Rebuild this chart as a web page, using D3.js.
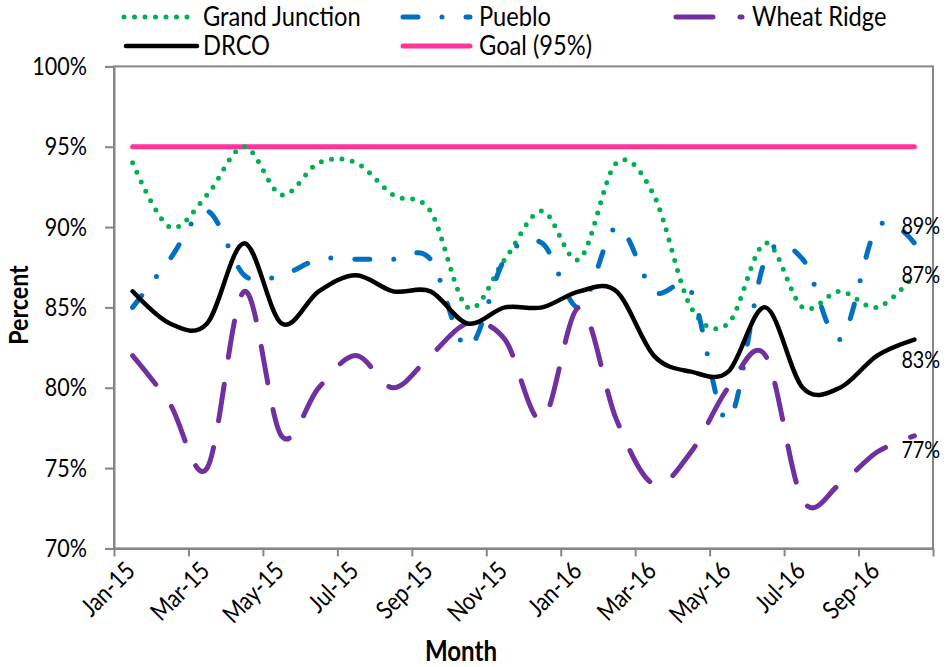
<!DOCTYPE html>
<html><head><meta charset="utf-8">
<script src="https://cdn.jsdelivr.net/npm/d3@7"></script>
<style>
body{margin:0;background:#fff}
text{font-family:Lato,"Open Sans",sans-serif;fill:#000}
</style>
</head><body><svg id="c" width="946" height="667"></svg>
<script>
// ---------- data ----------
const months = ["Jan-15","Feb-15","Mar-15","Apr-15","May-15","Jun-15","Jul-15","Aug-15","Sep-15","Oct-15","Nov-15","Dec-15",
                "Jan-16","Feb-16","Mar-16","Apr-16","May-16","Jun-16","Jul-16","Aug-16","Sep-16","Oct-16"];
const grandJunction = [94,90,92,95,92,94,94,92,91,85,88,91,88,94,92,85,84,89,85,86,85,87];
const pueblo        = [85,88,91,87,87,88,88,88,88,82.5,88,89,85,90,86,86,78,88,88,83,90,89];
const wheatRidge    = [82,79,75,86,77,80,82,80,82,84,83,78,85,78,74,76,80,82,73,74,76,77];
const drco          = [86,84,84,89,84,86,87,86,86,84,85,85,86,86,82,81,81,85,80,80,82,83];
const goal          = [95,95,95,95,95,95,95,95,95,95,95,95,95,95,95,95,95,95,95,95,95,95];
const seriesNames   = ["Grand Junction","Pueblo","Wheat Ridge","DRCO","Goal (95%)"];
const yTicks        = [70,75,80,85,90,95,100];
const xTickLabels   = ["Jan-15","Mar-15","May-15","Jul-15","Sep-15","Nov-15","Jan-16","Mar-16","May-16","Jul-16","Sep-16"];
const endLabelText  = ["87%","89%","77%","83%"];

// ---------- styles ----------
const styles = {
  "Grand Junction": {color:"#00B050", width:5, dash:"0 10.5"},
  "Pueblo":         {color:"#0070C0", width:5, dash:"15 24 0 24"},
  "Wheat Ridge":    {color:"#7030A0", width:5, dash:"37 27"},
  "DRCO":           {color:"#000000", width:4.5, dash:null},
  "Goal (95%)":     {color:"#FF3399", width:5, dash:null}
};
const seriesValues = [grandJunction, pueblo, wheatRidge, drco, goal];

const L = 114, R = 933, T = 66.4, B = 548.4;
const svg = d3.select("#c");

const x = d3.scaleBand().domain(months).range([L, R]).padding(0);
const xIdx = d3.scaleLinear().domain([0, months.length]).range([L, R]);
const y = d3.scaleLinear().domain([70, 100]).range([B, T]);
const cx = m => x(m) + x.bandwidth() / 2;

// plot border
svg.append("rect").attr("x", L).attr("y", T).attr("width", R - L).attr("height", B - T)
  .attr("fill", "none").attr("stroke", "#868686").attr("stroke-width", 2);

// y axis
const gy = svg.append("g").attr("transform", `translate(${L},0)`)
  .call(d3.axisLeft(y).tickValues(yTicks).tickFormat(d => d + "%").tickSize(9).tickPadding(18));
gy.select(".domain").attr("stroke", "#868686").attr("stroke-width", 2);
gy.selectAll(".tick line").attr("stroke", "#868686").attr("stroke-width", 2);
gy.selectAll(".tick text").attr("font-size", 25).attr("font-family", null).attr("fill", "#000");

// x axis ticks (between categories, every 2)
const gx = svg.append("g").attr("transform", `translate(0,${B})`)
  .call(d3.axisBottom(xIdx).tickValues(d3.range(0, months.length + 1, 2)).tickFormat("").tickSize(8).tickSizeOuter(0));
gx.select(".domain").attr("stroke", "#868686").attr("stroke-width", 2);
gx.selectAll(".tick line").attr("stroke", "#868686").attr("stroke-width", 2);

// x labels
const gxl = svg.append("g").attr("transform", `translate(0,${B})`)
  .call(d3.axisBottom(x).tickValues(xTickLabels).tickSize(0));
gxl.select(".domain").remove();
gxl.selectAll(".tick text")
  .attr("font-size", 25).attr("font-family", null).attr("fill", "#000")
  .attr("text-anchor", "end").attr("y", 0).attr("dy", 0)
  .attr("transform", "translate(4,24) rotate(-45)");

// axis titles
svg.append("text").attr("x", 461).attr("y", 661).attr("text-anchor", "middle")
  .attr("font-size", 28).attr("font-weight", "bold").text("Month");
svg.append("text").attr("transform", "translate(28,305) rotate(-90)").attr("text-anchor", "middle")
  .attr("font-size", 27).attr("font-weight", "bold").text("Percent");

// lines
const line = d3.line().x((d, i) => cx(months[i])).y(d => y(d)).curve(d3.curveCardinal.tension(0));
const drawOrder = [4, 0, 1, 2, 3];
drawOrder.forEach(k => {
  const st = styles[seriesNames[k]];
  svg.append("path").datum(seriesValues[k]).attr("d", line)
    .attr("fill", "none").attr("stroke", st.color).attr("stroke-width", st.width)
    .attr("stroke-linecap", "round").attr("stroke-linejoin", "round")
    .attr("stroke-dasharray", st.dash);
});

// end labels
const last = months[months.length - 1];
const endSeries = [grandJunction, pueblo, wheatRidge, drco];
const endOffsets = [0, -17, 14, 20];
endSeries.forEach((s, k) => {
  svg.append("text").attr("x", cx(last) - 13).attr("y", y(s[s.length - 1]) + endOffsets[k])
    .attr("dy", "0.35em").attr("font-size", 23).text(endLabelText[k]);
});

// legend
const legendPos = [
  {x1:124, x2:190, ty:17, tx:203},
  {x1:403, x2:470, ty:17, tx:479},
  {x1:676, x2:742, ty:17, tx:752},
  {x1:126, x2:197, ty:46, tx:203},
  {x1:403, x2:470, ty:46, tx:479}
];
seriesNames.forEach((n, k) => {
  const st = styles[n], p = legendPos[k];
  svg.append("line").attr("x1", p.x1).attr("x2", p.x2).attr("y1", p.ty).attr("y2", p.ty)
    .attr("stroke", st.color).attr("stroke-width", st.width).attr("stroke-linecap", "round")
    .attr("stroke-dasharray", st.dash);
  svg.append("text").attr("class", "leg").attr("x", p.tx).attr("y", p.ty).attr("dy", "0.35em").attr("font-size", 26).text(n);
});

// condense glyphs horizontally (reference font is narrow)
svg.selectAll("text").each(function () {
  const f = this.classList.contains("leg") ? 0.91 : 0.86;
  const w = this.getComputedTextLength();
  d3.select(this).attr("textLength", w * f).attr("lengthAdjust", "spacingAndGlyphs");
});
</script></body></html>
